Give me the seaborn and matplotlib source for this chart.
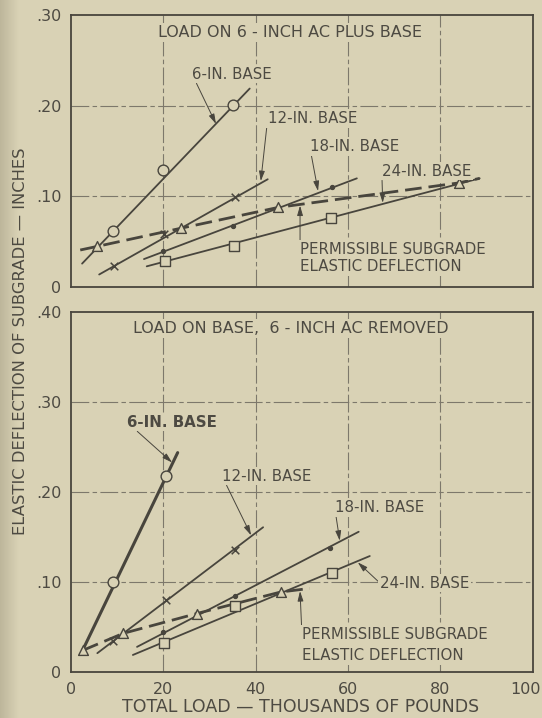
import matplotlib
matplotlib.use("Agg")
import matplotlib.pyplot as plt
import matplotlib.transforms as mtransforms
import numpy as np
import seaborn as sns

# ---------------- data (thousands of lb, inches) ----------------
# Upper panel: load on 6-inch AC plus base
top_6_x, top_6_y = [9, 20, 35], [0.062, 0.129, 0.201]
top_6_lx, top_6_ly = [2.4, 38.7], [0.026, 0.219]
top_12_x, top_12_y = [9.3, 20.1, 35.5], [0.023, 0.059, 0.099]
top_12_lx, top_12_ly = [6.1, 42.6], [0.014, 0.119]
top_18_x, top_18_y = [20, 35, 56.5], [0.040, 0.067, 0.111]
top_18_lx, top_18_ly = [15.8, 61.9], [0.031, 0.120]
top_24_x, top_24_y = [20.3, 35.3, 56.4], [0.029, 0.045, 0.076]
top_24_lx, top_24_ly = [16.4, 88.5], [0.023, 0.120]
top_perm_x = [2.0, 5.7, 23.8, 44.9, 84.0, 88.5]
top_perm_y = [0.041, 0.045, 0.065, 0.088, 0.115, 0.120]
top_perm_mx, top_perm_my = [5.7, 23.8, 44.9, 84.0], [0.045, 0.065, 0.088, 0.115]

# Lower panel: load on base, 6-inch AC removed
bot_6_x, bot_6_y = [9.2, 20.5], [0.100, 0.218]
bot_6_lx, bot_6_ly = [2.5, 23.1], [0.024, 0.244]
bot_12_x, bot_12_y = [9.1, 20.5, 35.5], [0.034, 0.080, 0.136]
bot_12_lx, bot_12_ly = [5.7, 41.6], [0.021, 0.161]
bot_18_x, bot_18_y = [20, 35.5, 56], [0.044, 0.085, 0.138]
bot_18_lx, bot_18_ly = [14.3, 62.3], [0.028, 0.156]
bot_24_x, bot_24_y = [20.1, 35.5, 56.6], [0.032, 0.074, 0.110]
bot_24_lx, bot_24_ly = [13.4, 64.7], [0.019, 0.129]
bot_perm_x = [2.5, 11.3, 27.2, 45.4, 51.7]
bot_perm_y = [0.024, 0.043, 0.065, 0.089, 0.093]
bot_perm_mx, bot_perm_my = [2.5, 11.3, 27.2, 45.4], [0.024, 0.043, 0.065, 0.089]

x_ticks = [0, 20, 40, 60, 80, 100]
x_tick_labels = ["0", "20", "40", "60", "80", "100"]
top_y_ticks = [0, 0.1, 0.2, 0.3]
top_y_labels = ["0", ".10", ".20", ".30"]
bot_y_ticks = [0, 0.1, 0.2, 0.3, 0.4]
bot_y_labels = ["0", ".10", ".20", ".30", ".40"]

PAPER = "#d9d2b5"
INK = "#48453d"
TXT = "#4d4a42"
GRID = "#7d786b"

sns.set_theme(style="white")
plt.rcParams["font.family"] = ["DejaVu Sans"]
plt.rcParams["text.color"] = TXT

fig = plt.figure(figsize=(5.42, 7.18), dpi=100, facecolor=PAPER)

# darker page edge along the binding side
edge = fig.add_axes([0, 0, 0.035, 1], zorder=-5)
grad = np.linspace(0, 1, 64)[None, :]
edge.imshow(grad, aspect="auto", cmap=matplotlib.colors.LinearSegmentedColormap.from_list(
    "edge", ["#bdb69b", PAPER]), extent=[0, 1, 0, 1])
edge.axis("off")

ax_top = fig.add_axes([0.131, 0.600, 0.852, 0.379])
ax_bot = fig.add_axes([0.131, 0.064, 0.852, 0.501])


def style_axes(ax, yticks, ylabels, ymax, show_x):
    ax.set_facecolor(PAPER)
    ax.set_xlim(0, 100)
    ax.set_ylim(0, ymax)
    ax.set_xticks(x_ticks)
    ax.set_yticks(yticks)
    ax.set_yticklabels(ylabels)
    if show_x:
        ax.set_xticklabels(x_tick_labels)
    else:
        ax.set_xticklabels([])
    ax.tick_params(length=0, pad=7, labelsize=11.5, labelcolor=TXT)
    for s in ax.spines.values():
        s.set_color(INK)
        s.set_linewidth(1.3)
    for gx in x_ticks[1:-1]:
        ax.axvline(gx, color=GRID, lw=0.8, ls=(0, (16, 3, 4, 3)), zorder=0.5)
    for gy in yticks[1:-1]:
        ax.axhline(gy, color=GRID, lw=0.8, ls=(0, (16, 3, 4, 3)), zorder=0.5)
    ax.set_xlabel("")
    ax.set_ylabel("")


def line(ax, x, y, lw=1.3, ls="-"):
    sns.lineplot(x=x, y=y, ax=ax, color=INK, lw=lw, linestyle=ls,
                 sort=False, estimator=None, zorder=2)


def pts(ax, x, y, marker, s, filled=False, lw=1.0):
    if marker in ("x", "."):
        sns.scatterplot(x=x, y=y, ax=ax, marker=marker, s=s, color=INK,
                        linewidth=lw, zorder=3)
    else:
        sns.scatterplot(x=x, y=y, ax=ax, marker=marker, s=s,
                        facecolor=INK if filled else PAPER, edgecolor=INK,
                        linewidth=lw, zorder=3)


ARROW = dict(arrowstyle="-|>,head_length=0.55,head_width=0.16", lw=0.7,
             color=INK, shrinkA=0, shrinkB=0, relpos=(0, 0.5))
BOX = dict(boxstyle="square,pad=0.12", fc=PAPER, ec="none")


def label(ax, text, xy, xytext, fs=10.8, weight="normal", ls=1.2, relpos=(0, 0.5)):
    arr = dict(ARROW)
    arr["relpos"] = relpos
    ax.annotate(text, xy=xy, xytext=xytext, textcoords="data", ha="left",
                va="center", fontsize=fs, fontweight=weight, color=TXT,
                linespacing=ls, bbox=BOX, arrowprops=arr, zorder=4)


# ---------------- upper panel ----------------
style_axes(ax_top, top_y_ticks, top_y_labels, 0.30, False)
line(ax_top, top_6_lx, top_6_ly)
line(ax_top, top_12_lx, top_12_ly)
line(ax_top, top_18_lx, top_18_ly)
line(ax_top, top_24_lx, top_24_ly)
line(ax_top, top_perm_x, top_perm_y, lw=2.0, ls=(0, (6, 2.5)))
pts(ax_top, top_6_x, top_6_y, "o", 60)
pts(ax_top, top_12_x, top_12_y, "x", 30, lw=1.1)
pts(ax_top, top_18_x, top_18_y, "o", 8, filled=True)
pts(ax_top, top_24_x, top_24_y, "s", 50)
pts(ax_top, top_perm_mx, top_perm_my, "^", 50)

ax_top.text(18.8, 0.281, "LOAD ON 6 - INCH AC PLUS BASE", fontsize=11.5,
            ha="left", va="center", color=TXT, bbox=BOX, zorder=4)
label(ax_top, "6-IN. BASE", (31.4, 0.180), (26.2, 0.235))
label(ax_top, "12-IN. BASE", (41.1, 0.117), (42.6, 0.186))
label(ax_top, "18-IN. BASE", (53.5, 0.106), (51.7, 0.155))
label(ax_top, "24-IN. BASE", (67.5, 0.093), (67.3, 0.128))
label(ax_top, "PERMISSIBLE SUBGRADE\nELASTIC DEFLECTION", (49.6, 0.090),
      (49.6, 0.032), ls=1.2, relpos=(0, 0.8))

# ---------------- lower panel ----------------
style_axes(ax_bot, bot_y_ticks, bot_y_labels, 0.40, True)
line(ax_bot, bot_6_lx, bot_6_ly, lw=2.2)
line(ax_bot, bot_12_lx, bot_12_ly)
line(ax_bot, bot_18_lx, bot_18_ly)
line(ax_bot, bot_24_lx, bot_24_ly)
line(ax_bot, bot_perm_x, bot_perm_y, lw=2.0, ls=(0, (6, 2.5)))
pts(ax_bot, bot_6_x, bot_6_y, "o", 60)
pts(ax_bot, bot_12_x, bot_12_y, "x", 30, lw=1.1)
pts(ax_bot, bot_18_x, bot_18_y, "o", 8, filled=True)
pts(ax_bot, bot_24_x, bot_24_y, "s", 50)
pts(ax_bot, bot_perm_mx, bot_perm_my, "^", 50)

ax_bot.text(13.4, 0.382, "LOAD ON BASE,  6 - INCH AC REMOVED", fontsize=11.5,
            ha="left", va="center", color=TXT, bbox=BOX, zorder=4)
label(ax_bot, "6-IN. BASE", (21.9, 0.233), (12.1, 0.278), weight="bold")
label(ax_bot, "12-IN. BASE", (39.0, 0.152), (32.7, 0.218))
label(ax_bot, "18-IN. BASE", (58.2, 0.146), (57.1, 0.183))
label(ax_bot, "24-IN. BASE", (62.1, 0.122), (66.9, 0.099))
label(ax_bot, "PERMISSIBLE SUBGRADE\nELASTIC DEFLECTION", (49.6, 0.090),
      (50.0, 0.030), ls=1.55, relpos=(0, 0.8))

# keep the last x tick label inside the figure
last = ax_bot.get_xticklabels()[-1]
last.set_transform(last.get_transform() + mtransforms.ScaledTranslation(
    -7 / 100, 0, fig.dpi_scale_trans))

fig.text(0.037, 0.525, "ELASTIC DEFLECTION OF SUBGRADE — INCHES", rotation=90,
         ha="center", va="center", fontsize=11.8, color=TXT)
fig.text(0.555, 0.015, "TOTAL LOAD — THOUSANDS OF POUNDS", ha="center",
         va="center", fontsize=12.5, color=TXT)

fig.savefig("out.png", dpi=100, facecolor=PAPER)
